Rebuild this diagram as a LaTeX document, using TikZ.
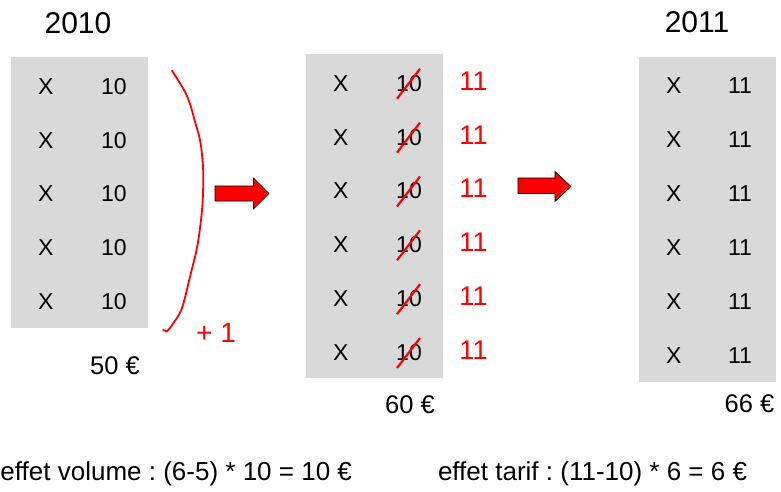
\documentclass[tikz,border=0pt]{standalone}
\usepackage{fontspec}
\setmainfont{Liberation Sans}
\definecolor{boxgray}{HTML}{D9D9D9}
\definecolor{pred}{HTML}{FF0000}
\begin{document}
\frenchspacing
\begin{tikzpicture}[x=1pt,y=-1pt,
  every node/.style={inner sep=0pt,outer sep=0pt},
  cell/.style={font=\fontsize{23}{27}\selectfont},
  redcell/.style={font=\fontsize{27}{31}\selectfont,text=pred},
  year/.style={font=\fontsize{30}{34}\selectfont},
  total/.style={font=\fontsize{25.5}{30}\selectfont},
  effect/.style={font=\fontsize{26}{30}\selectfont},
  graybox/.style={fill=boxgray,draw=none},
  strike/.style={draw=pred,line width=2.2pt},
  bigarrow/.style={fill=pred,draw=black,line width=0.6pt,line join=miter},
  handline/.style={draw=pred,line width=1.8pt,line cap=round,line join=round}]
\useasboundingbox (0,0) rectangle (781,491);
% boxes
\node[graybox,minimum width=137pt,minimum height=271pt] (box1) at (79.5,192.5) {};
\node[graybox,minimum width=137pt,minimum height=323.5pt] (box2) at (374.5,215.75) {};
\node[graybox,minimum width=136.5pt,minimum height=325.3pt] (box3) at (707.25,219.35) {};
% titles
\node[year] (y2010) at (78,23) {2010};
\node[year] (y2011) at (697,22.5) {2011};
% box 1 rows
\foreach \i in {0,...,4}{
  \node[cell] (ax\i) at (45.8,86.5+53.75*\i) {X};
  \node[cell] (av\i) at (113.8,86.5+53.75*\i) {10};
}
% box 2 rows
\foreach \i in {0,...,5}{
  \node[cell] (bx\i) at (340.8,83.3+53.84*\i) {X};
  \node[cell] (bv\i) at (409,83.3+53.84*\i) {10};
  \node[redcell] (bn\i) at (473.5,81+53.84*\i) {11};
  \draw[strike] ([shift={(-12,15.5)}]bv\i.center) -- ([shift={(11,-14.5)}]bv\i.center);
}
% box 3 rows
\foreach \i in {0,...,5}{
  \node[cell] (cx\i) at (673.7,86+54*\i) {X};
  \node[cell] (cv\i) at (740,86+54*\i) {11};
}
% totals
\node[total] (t50) at (115,366) {50 €};
\node[total] (t60) at (410,405) {60 €};
\node[total] (t66) at (749.5,403.5) {66 €};
\node[font=\fontsize{28}{32}\selectfont,text=pred] (plus) at (216,333) {+ 1};
% red hand-drawn brace
\draw[handline] plot[smooth,tension=0.6] coordinates {(172,70.7) (184,90) (190,104) (195,121.7) (200,140) (202.5,160) (203.3,180) (202,210) (197.5,245) (190,276.7) (182,308) (173.3,323.3) (167,331.5)} -- (163,330);
% block arrows
\path[bigarrow] (215,186) -- (253.5,186) -- (253.5,178) -- (269,193.5) -- (253.5,209) -- (253.5,201) -- (215,201) -- cycle;
\path[bigarrow] (518,178) -- (555,178) -- (555,171.5) -- (571,186.5) -- (555,201.5) -- (555,193.5) -- (518,193.5) -- cycle;
% effects
\node[effect,anchor=base west] (evol) at (0.5,480) {effet volume : (6-5) * 10 = 10 €};
\node[effect,anchor=base west] (etar) at (438,480) {effet tarif : (11-10) * 6 = 6 €};
\end{tikzpicture}
\end{document}
